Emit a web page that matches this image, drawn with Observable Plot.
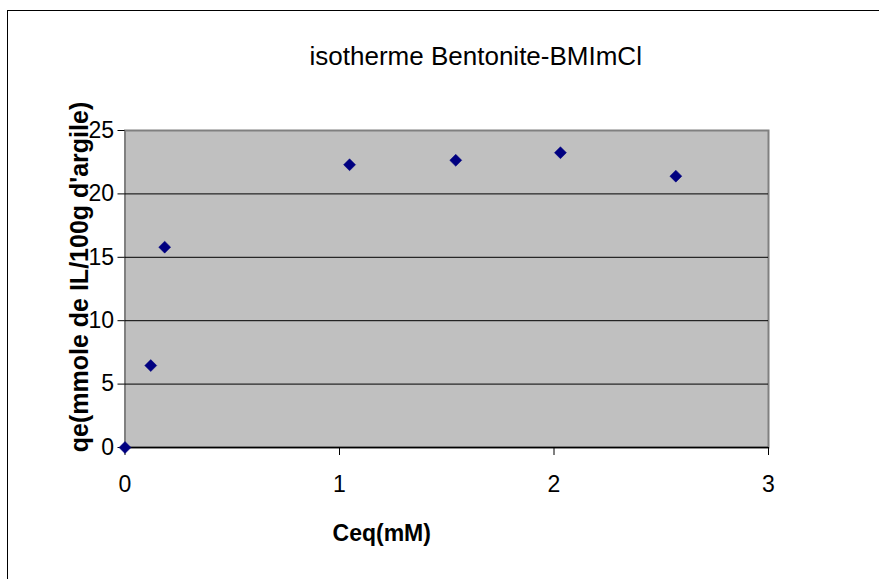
<!DOCTYPE html>
<html>
<head>
<meta charset="utf-8">
<script src="https://cdn.jsdelivr.net/npm/d3@7"></script>
<script src="https://cdn.jsdelivr.net/npm/@observablehq/plot@0.6"></script>
<style>
  html, body { margin: 0; padding: 0; background: #fff; }
  #wrap { position: relative; width: 879px; height: 579px; overflow: hidden; }
  #border { position: absolute; left: 7px; top: 10px; width: 900px; height: 600px;
            border-left: 1.5px solid #000; border-top: 1.5px solid #000; pointer-events: none; }
</style>
</head>
<body>
<div id="wrap"><div id="border"></div></div>
<script>
const titleText = "isotherme Bentonite-BMImCl";
const xLabel = "Ceq(mM)";
const yLabel = "qe(mmole de IL/100g d'argile)";
const ceq = [0, 0.12, 0.185, 1.047, 1.542, 2.03, 2.568];
const qe = [0, 6.46, 15.8, 22.3, 22.65, 23.25, 21.4];
const xTicks = [0, 1, 2, 3];
const yTicks = [0, 5, 10, 15, 20, 25];
const gridLines = [5, 10, 15, 20];

const data = ceq.map((c, i) => ({ceq: c, qe: qe[i]}));

const chart = Plot.plot({
  width: 879,
  height: 579,
  marginLeft: 124.5,
  marginRight: 111,
  marginTop: 130,
  marginBottom: 132,
  style: {fontFamily: "'Liberation Sans', Arial, sans-serif", fontSize: "23px", background: "transparent", color: "#000"},
  x: {domain: [0, 3], label: null},
  y: {domain: [0, 25], label: null},
  marks: [
    Plot.frame({fill: "#c0c0c0", stroke: "#808080", strokeWidth: 2}),
    Plot.ruleY(gridLines, {stroke: "#000", strokeWidth: 1}),
    Plot.ruleY([0], {stroke: "#000", strokeWidth: 1.5}),
    Plot.axisX({ticks: xTicks, tickFormat: d3.format("d"), tickSize: 8, tickPadding: 20, fontSize: 23, label: null, stroke: "#000"}),
    Plot.axisY({ticks: yTicks, tickFormat: d3.format("d"), tickSize: 7, tickPadding: 4, fontSize: 23, label: null, stroke: "#000"}),
    Plot.dot(data, {x: "ceq", y: "qe", symbol: "diamond2", r: 5.4, fill: "#000080", stroke: "#000080", strokeWidth: 0.5}),
    Plot.text([titleText], {frameAnchor: "top", dx: 29, dy: -74, lineAnchor: "middle", fontSize: 26, letterSpacing: "1.1px", fill: "#000"}),
    Plot.text([xLabel], {frameAnchor: "bottom", dx: -65, dy: 86, lineAnchor: "middle", fontSize: 23, fontWeight: "bold", fill: "#000"}),
    Plot.text([yLabel], {frameAnchor: "left", rotate: -90, textAnchor: "middle", dx: -45.5, dy: -12, lineAnchor: "middle", fontSize: 25, fontWeight: "bold", fill: "#000"})
  ]
});
chart.style.position = "absolute";
chart.style.left = "0px";
chart.style.top = "0px";
document.getElementById("wrap").appendChild(chart);
</script>
</body>
</html>
